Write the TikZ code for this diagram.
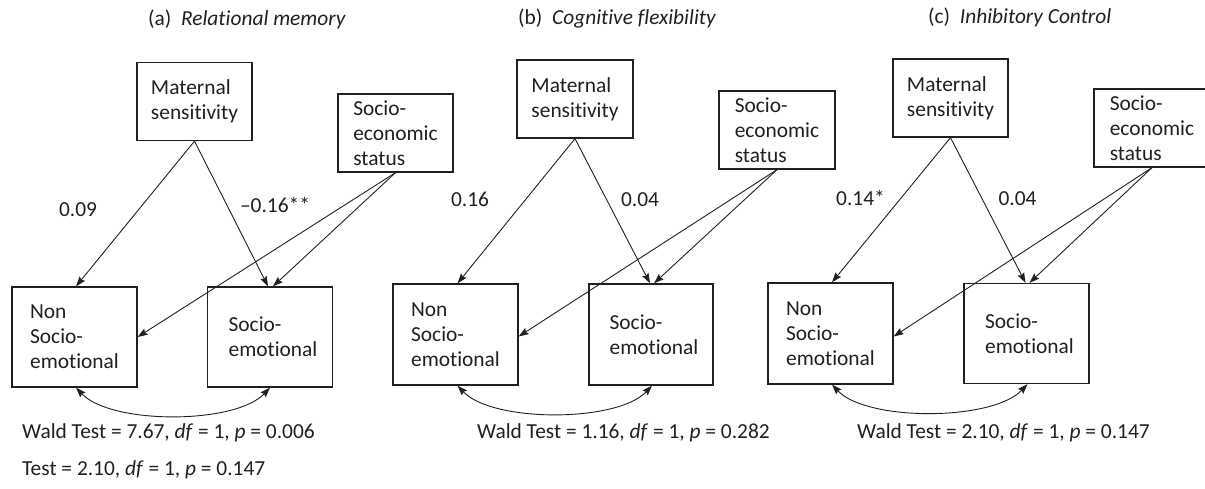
\documentclass[tikz,border=0pt]{standalone}
\usepackage{fontspec}
\setmainfont{Carlito}[Ligatures={NoCommon}]
\usetikzlibrary{arrows.meta}
\definecolor{ink}{HTML}{231F20}
\begin{document}
\begin{tikzpicture}[x=1pt,y=-1pt,
  every node/.style={font=\fontsize{21.4}{25}\selectfont, text=ink},
  box/.style={draw=ink, line width=1.3pt, align=left, inner sep=0pt},
  tbox/.style={box, minimum width=115pt, minimum height=78pt},
  obox/.style={box, minimum width=125pt, minimum height=100pt},
  arr/.style={draw=ink, line width=0.9pt, -{Stealth[length=10pt,width=7pt,inset=1.5pt]}},
  darr/.style={draw=ink, line width=0.9pt, {Stealth[length=10pt,width=7pt,inset=1.5pt]}-{Stealth[length=10pt,width=7pt,inset=1.5pt]}},
  lbl/.style={anchor=base, inner sep=0pt},
  ttl/.style={anchor=base west, inner sep=0pt}]
\useasboundingbox (0,0) rectangle (1205,489);

% ---------- panel (a)
\node[ttl] (ta) at (148,26) {(a)\ \ \textit{Relational memory}};
\node[tbox] (Ma) at (194.5,101.5) {Maternal\\sensitivity};
\node[tbox] (SESa) at (395.5,133) {Socio-\\economic\\status};
\node[obox] (NSa) at (74.5,337) {Non\\Socio-\\emotional};
\node[obox] (Sa) at (270,337) {\hspace*{6pt}Socio-\\\hspace*{6pt}emotional};
\draw[arr] (Ma.south) -- ([xshift=1.5pt]NSa.north);
\draw[arr] (Ma.south) -- ([xshift=-2pt]Sa.north);
\draw[arr] (SESa.south) -- ([xshift=3pt]Sa.north);
\draw[arr] (SESa.south) -- (NSa.east);
\draw[darr] ([xshift=1.5pt]NSa.south) .. controls +(35,37) and +(-35,37) .. (Sa.south);
\node[lbl] (la1) at (78,217) {0.09};
\node[lbl] (la2) at (275,213) {–0.16**};
\node[ttl] (wa) at (22,438) {Wald Test = 7.67, \textit{df} = 1, \textit{p} = 0.006};
\node[ttl] (wa2) at (22,475) {Test = 2.10, \textit{df} = 1, \textit{p} = 0.147};

% ---------- panel (b)
\node[ttl] (tb) at (518,25) {(b)\ \ \textit{Cognitive flexibility}};
\node[tbox, minimum width=116pt] (Mb) at (575,99) {Maternal\\sensitivity};
\node[tbox, minimum width=116pt] (SESb) at (777,130) {Socio-\\economic\\status};
\node[obox, minimum height=101pt] (NSb) at (455.5,334.5) {Non\\Socio-\\emotional};
\node[obox, minimum width=124pt, minimum height=101pt] (Sb) at (651,334.5) {\hspace*{6pt}Socio-\\\hspace*{6pt}emotional};
\draw[arr] (Mb.south) -- ([xshift=2pt]NSb.north);
\draw[arr] (Mb.south) -- ([xshift=-1pt]Sb.north);
\draw[arr] (SESb.south) -- ([xshift=3pt]Sb.north);
\draw[arr] (SESb.south) -- ([yshift=-2pt]NSb.east);
\draw[darr] ([xshift=2pt]NSb.south) .. controls +(35,37) and +(-35,37) .. ([xshift=1pt]Sb.south);
\node[lbl] (lb1) at (470,207) {0.16};
\node[lbl] (lb2) at (640,207) {0.04};
\node[ttl] (wb) at (477,438) {Wald Test = 1.16, \textit{df} = 1, \textit{p} = 0.282};

% ---------- panel (c)
\node[ttl] (tc) at (928,24) {(c)\ \ \textit{Inhibitory Control}};
\node[tbox] (Mc) at (950.5,98) {Maternal\\sensitivity};
\node[tbox, minimum width=116pt] (SESc) at (1152,128) {Socio-\\economic\\status};
\node[obox, minimum height=101pt] (NSc) at (830.5,333.5) {Non\\Socio-\\emotional};
\node[obox] (Sc) at (1026.5,333.5) {\hspace*{6pt}Socio-\\\hspace*{6pt}emotional};
\draw[arr] (Mc.south) -- ([xshift=1.5pt]NSc.north);
\draw[arr] (Mc.south) -- ([xshift=-1pt]Sc.north);
\draw[arr] (SESc.south) -- ([xshift=3pt]Sc.north);
\draw[arr] (SESc.south) -- ([yshift=-3pt]NSc.east);
\draw[darr] ([xshift=1.5pt]NSc.south) .. controls +(35,37) and +(-35,37) .. ([xshift=1pt]Sc.south);
\node[lbl] (lc1) at (860.5,206) {0.14*};
\node[lbl] (lc2) at (1017.5,206) {0.04};
\node[ttl] (wc) at (857,438) {Wald Test = 2.10, \textit{df} = 1, \textit{p} = 0.147};
\end{tikzpicture}
\end{document}
